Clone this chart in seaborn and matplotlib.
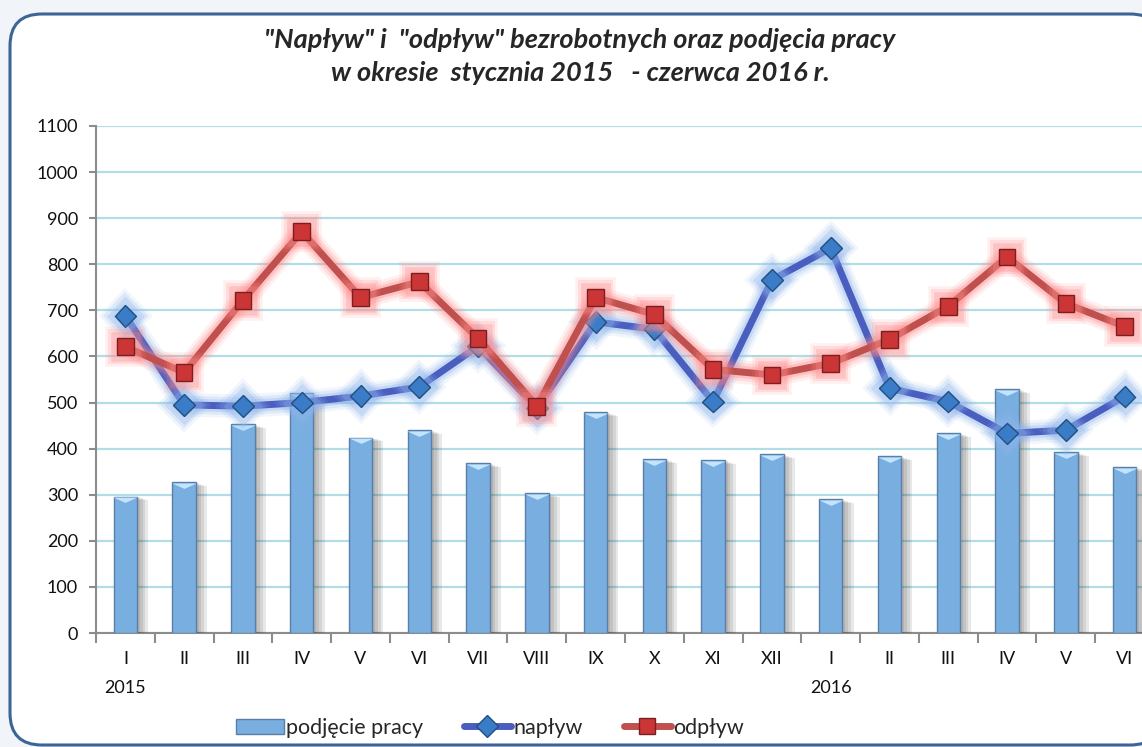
import numpy as np
import pandas as pd
import matplotlib
matplotlib.use("Agg")
import matplotlib.pyplot as plt
import matplotlib.patheffects as pe
from matplotlib.patches import FancyBboxPatch
from matplotlib.transforms import IdentityTransform, blended_transform_factory
from matplotlib.lines import Line2D
from matplotlib.patches import Patch
import seaborn as sns

months = ["I", "II", "III", "IV", "V", "VI", "VII", "VIII", "IX", "X", "XI", "XII",
          "I", "II", "III", "IV", "V", "VI"]
years = {0: "2015", 12: "2016"}
podjecie = [296, 328, 453, 521, 424, 440, 369, 303, 479, 377, 375, 388,
            290, 383, 433, 529, 392, 360]
naplyw = [688, 495, 492, 500, 514, 534, 622, 488, 675, 659, 502, 766,
          835, 531, 502, 433, 440, 513]
odplyw = [621, 565, 722, 871, 728, 762, 639, 492, 728, 691, 572, 560,
          585, 637, 709, 816, 715, 665]

df = pd.DataFrame({"idx": np.arange(len(months)), "podjecie": podjecie,
                   "naplyw": naplyw, "odplyw": odplyw})

sns.set_style("white")
plt.rcParams["font.family"] = ["Lato", "DejaVu Sans"]

W, H = 1142, 747
fig = plt.figure(figsize=(W / 100, H / 100), dpi=100)
fig.patch.set_facecolor("#f1f4f9")

# rounded white panel (pixel coords)
panel = FancyBboxPatch((10, 2), 1152, 731, boxstyle="round,pad=0,rounding_size=32",
                       transform=IdentityTransform(), facecolor="white",
                       edgecolor="#3d6496", linewidth=2.2, zorder=-5)
fig.patches.append(panel)

ax = fig.add_axes([96 / W, (H - 633) / H, (1154 - 96) / W, (633 - 126) / H])
ax.set_facecolor("none")

bar_color = "#79aee0"
sns.barplot(data=df, x="idx", y="podjecie", native_scale=True, width=0.4,
            color=bar_color, saturation=1, errorbar=None, ax=ax,
            edgecolor="#5a7ea6", linewidth=1.0, zorder=3)
shadow = [pe.SimplePatchShadow(offset=(o, -o / 3), shadow_rgbFace="#333333", alpha=0.11)
          for o in (2, 4, 6, 8)]
for p in ax.patches:
    p.set_path_effects(shadow + [pe.Normal()])
# bevel highlight at bar tops
bevel = [(-1, 0), (1, 0), (0, -0.45), (-1, 0)]
ax.scatter(df["idx"], df["podjecie"] - 2, marker=bevel, s=300, color="#c2e4ff",
           linewidths=0, zorder=4)

def glow(color):
    return [pe.Stroke(linewidth=17, foreground=color, alpha=0.12),
            pe.Stroke(linewidth=13, foreground=color, alpha=0.2),
            pe.Stroke(linewidth=9, foreground=color, alpha=0.3),
            pe.Normal()]

sns.lineplot(data=df, x="idx", y="naplyw", ax=ax, color="#4a5ebf", linewidth=5,
             marker="D", markersize=11, markerfacecolor="#3a7cc8",
             markeredgecolor="#21507f", markeredgewidth=1.0, zorder=5,
             path_effects=glow("#8fb6ee"))
sns.lineplot(data=df, x="idx", y="odplyw", ax=ax, color="#c0504d", linewidth=5,
             marker="s", markersize=12, markerfacecolor="#cc3535",
             markeredgecolor="#7a1f1f", markeredgewidth=1.0, zorder=6,
             path_effects=glow("#ff8a8a"))

ax.set_xlim(-0.5, len(months) - 0.5)
ax.set_ylim(0, 1100)
ax.set_yticks(range(0, 1101, 100))
ax.yaxis.grid(True, color="#b3dde6", linewidth=1.6, zorder=0)
ax.set_axisbelow(True)
ax.set_xticks(df["idx"])
ax.set_xticklabels(months)
ax.set_xticks(np.arange(-0.5, len(months), 1), minor=True)
ax.tick_params(axis="x", which="major", length=0, pad=13, labelsize=13, colors="#111111")
ax.tick_params(axis="x", which="minor", length=7, width=1.5, color="#8c8c8c", direction="out")
ax.tick_params(axis="y", length=5, width=1.5, color="#8c8c8c", direction="out",
               pad=8, labelsize=13, labelcolor="#111111")
ax.tick_params(bottom=True, left=True, which="both")
ax.set_xlabel("")
ax.set_ylabel("")
for s in ["top", "right"]:
    ax.spines[s].set_visible(False)
for s in ["left", "bottom"]:
    ax.spines[s].set_color("#8c8c8c")
    ax.spines[s].set_linewidth(1.5)

trans = blended_transform_factory(ax.transData, fig.transFigure)
for i, y in years.items():
    ax.text(i, (H - 688) / H, y, transform=trans, ha="center", va="center",
            fontsize=13, color="#111111")

fig.text(0.508, (H - 40) / H, "\"Napływ\" i  \"odpływ\" bezrobotnych oraz podjęcia pracy",
         ha="center", va="center", fontsize=19.5, fontweight="bold", fontstyle="italic")
fig.text(0.508, (H - 73) / H, "w okresie  stycznia 2015   - czerwca 2016 r.",
         ha="center", va="center", fontsize=19.5, fontweight="bold", fontstyle="italic")

handles = [
    Patch(facecolor=bar_color, edgecolor="#5a7ea6", label="podjęcie pracy"),
    Line2D([], [], color="#4a5ebf", linewidth=5, marker="D", markersize=11,
           markerfacecolor="#3a7cc8", markeredgecolor="#21507f", label="napływ"),
    Line2D([], [], color="#c0504d", linewidth=5, marker="s", markersize=12,
           markerfacecolor="#cc3535", markeredgecolor="#7a1f1f", label="odpływ"),
]
fig.legend(handles=handles, loc="center", bbox_to_anchor=(490 / W, (H - 728) / H),
           ncol=3, frameon=False, fontsize=15.5, handlelength=2.2, handletextpad=0.1,
           columnspacing=1.9)

fig.savefig("out.png", dpi=100)
